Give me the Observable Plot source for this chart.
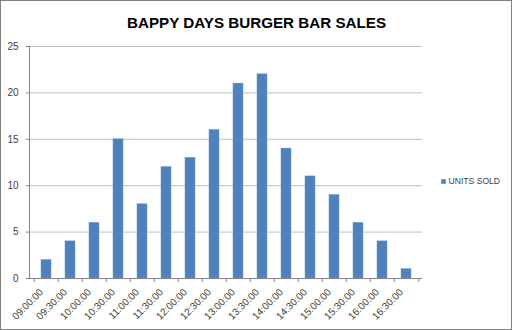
<!DOCTYPE html>
<html><head><meta charset="utf-8">
<script src="https://cdn.jsdelivr.net/npm/d3@7"></script>
<script src="https://cdn.jsdelivr.net/npm/@observablehq/plot@0.6"></script>
<style>
html,body{margin:0;padding:0;background:#fff;}
#chart svg{display:block;outline:1px solid #7f7f7f;outline-offset:-1px;}
</style></head>
<body><div id="chart"></div>
<script>
const title = "BAPPY DAYS BURGER BAR SALES";
const seriesName = "UNITS SOLD";
const times = ["09:00:00","09:30:00","10:00:00","10:30:00","11:00:00","11:30:00","12:00:00","12:30:00","13:00:00","13:30:00","14:00:00","14:30:00","15:00:00","15:30:00","16:00:00","16:30:00"];
const units = [2,4,6,15,8,12,13,16,21,22,14,11,9,6,4,1];
const yTicks = [0,5,10,15,20,25];

const data = times.map((t,i)=>({time:t, units:units[i]}));
const W=512,H=330,mL=29,mR=90,mT=46,mB=52;
const step=(W-mL-mR)/times.length;
const font="'Liberation Sans', Arial, sans-serif";

const chart = Plot.plot({
  width:W, height:H, marginLeft:mL, marginRight:mR, marginTop:mT, marginBottom:mB,
  style:{fontFamily:font, fontSize:"10px", color:"#404040", background:"#fff"},
  x:{domain:times, paddingInner:0.6, paddingOuter:0.3, label:null},
  y:{domain:[0,25], label:null},
  marks:[
    Plot.gridY(yTicks.filter(d=>d>0), {stroke:"#bfbfbf", strokeOpacity:1}),
    Plot.barY(data, {x:"time", y:"units", fill:"#4f81bd", stroke:"#6f99cc", strokeWidth:0.5}),
    Plot.axisY({ticks:yTicks, tickSize:3, tickPadding:8, stroke:"#868686", fill:"#404040", label:null}),
    Plot.axisX({tickSize:0, tickRotate:-45, tickPadding:12, dx:-5, fill:"#404040", label:null}),
    Plot.axisX({tickSize:4, text:null, dx:-step/2, stroke:"#868686", label:null}),
    Plot.axisX({ticks:[times[times.length-1]], tickSize:4, text:null, dx:step/2, stroke:"#868686", label:null}),
    Plot.frame({anchor:"left", stroke:"#868686"}),
    Plot.ruleY([0], {stroke:"#868686"}),
    Plot.text([title], {frameAnchor:"top", dx:(W/2)-(mL+(W-mL-mR)/2), dy:-19, fontSize:15.2, fontWeight:"bold", fill:"#000", lineAnchor:"bottom"}),
    Plot.dot([seriesName], {frameAnchor:"right", dx:21, dy:19, symbol:"square", r:2.6, fill:"#4f81bd", stroke:"none"}),
    Plot.text([seriesName], {frameAnchor:"right", dx:26, dy:19, textAnchor:"start", fontSize:8.6, fill:"#404040"})
  ]
});
document.getElementById("chart").append(chart);
</script></body></html>
